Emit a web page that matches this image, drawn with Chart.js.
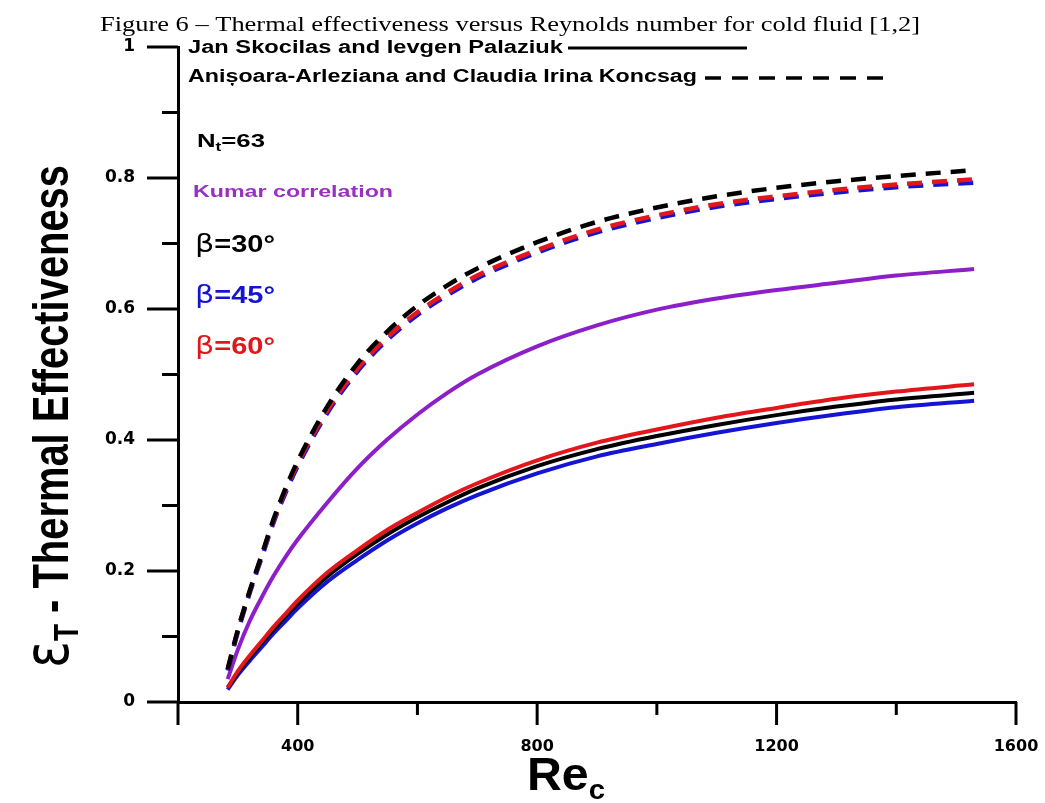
<!DOCTYPE html>
<html>
<head>
<meta charset="utf-8">
<script src="https://cdn.jsdelivr.net/npm/chart.js@4.4.1/dist/chart.umd.min.js"></script>
<style>
  html, body { margin: 0; padding: 0; background: #fff; }
  #wrap { width: 1045px; height: 803px; }
</style>
</head>
<body>
<div id="wrap"><canvas id="chart" width="1045" height="803"></canvas></div>
<script>
// Re_c values shared by every curve
const reC = [283, 300, 320, 340, 360, 380, 400, 450, 500, 550, 600, 650, 700, 800, 900, 1000, 1100, 1200, 1300, 1400, 1530];

// Jan Skocilas and Ievgen Palaziuk (solid)
const janBeta30 = [0.022, 0.045, 0.068, 0.09, 0.111, 0.131, 0.15, 0.192, 0.226, 0.256, 0.282, 0.305, 0.326, 0.36, 0.386, 0.406, 0.423, 0.438, 0.451, 0.462, 0.472];
const janBeta45 = [0.019, 0.041, 0.063, 0.084, 0.105, 0.124, 0.143, 0.184, 0.217, 0.247, 0.273, 0.296, 0.316, 0.349, 0.375, 0.394, 0.411, 0.426, 0.439, 0.45, 0.46];
const janBeta60 = [0.022, 0.047, 0.071, 0.093, 0.115, 0.135, 0.155, 0.198, 0.232, 0.263, 0.289, 0.313, 0.334, 0.369, 0.396, 0.416, 0.434, 0.449, 0.463, 0.474, 0.485];

// Kumar correlation
const kumar = [0.035, 0.08, 0.124, 0.16, 0.193, 0.222, 0.248, 0.305, 0.357, 0.401, 0.439, 0.472, 0.5, 0.543, 0.575, 0.599, 0.616, 0.629, 0.64, 0.651, 0.661];

// Anisoara-Arleziana and Claudia Irina Koncsag (dashed)
const konBeta30 = [0.05, 0.11, 0.17, 0.225, 0.28, 0.327, 0.368, 0.452, 0.517, 0.566, 0.605, 0.636, 0.662, 0.702, 0.733, 0.755, 0.772, 0.785, 0.795, 0.803, 0.812];
const konBeta45 = [0.048, 0.107, 0.167, 0.221, 0.275, 0.32, 0.36, 0.442, 0.505, 0.553, 0.591, 0.621, 0.647, 0.686, 0.717, 0.739, 0.756, 0.768, 0.778, 0.786, 0.793];
const konBeta60 = [0.05, 0.11, 0.17, 0.224, 0.278, 0.324, 0.364, 0.446, 0.509, 0.557, 0.595, 0.625, 0.651, 0.69, 0.721, 0.743, 0.76, 0.772, 0.782, 0.79, 0.798];

const xTickLabels = ['400', '800', '1200', '1600'];
const yTickLabels = ['0', '0.2', '0.4', '0.6', '0.8', '1'];

const BLACK = '#000000', BLUE = '#1414d2', RED = '#e3161b', PURPLE = '#8c1fc8';

function pts(ys) { return ys.map((y, i) => ({x: reC[i], y: y})); }

function curve(label, ys, color, dashed, order) {
  return {
    label: label, data: pts(ys), borderColor: color, backgroundColor: color,
    borderWidth: dashed ? 4.5 : 4, borderDash: dashed ? [15, 10] : [],
    pointRadius: 0, fill: false, cubicInterpolationMode: 'monotone', order: order
  };
}

// draws a row of text pieces, squeezed/stretched to a target width
function drawPieces(ctx, pieces, x, y, targetW, opts) {
  opts = opts || {};
  let w = 0;
  pieces.forEach(p => { ctx.font = p.font; p.w = ctx.measureText(p.t).width; w += p.w; });
  const sx = targetW ? targetW / w : 1;
  ctx.save();
  ctx.translate(x, y);
  if (opts.rotate) ctx.rotate(opts.rotate);
  ctx.scale(sx, opts.sy || 1);
  ctx.textBaseline = 'alphabetic';
  ctx.textAlign = 'left';
  let cx = 0;
  pieces.forEach(p => {
    ctx.font = p.font;
    ctx.fillStyle = p.color || BLACK;
    ctx.fillText(p.t, cx, p.dy || 0);
    cx += p.w;
  });
  ctx.restore();
}

const SANS = '"Liberation Sans", Arial, sans-serif';

const decor = {
  id: 'decor',
  afterDraw(chart) {
    const ctx = chart.ctx;
    const xs = chart.scales.x, ys = chart.scales.y;
    const a = chart.chartArea;

    // tick marks, outside the axes
    ctx.save();
    ctx.strokeStyle = BLACK;
    ctx.lineWidth = 3;
    xs.ticks.forEach(t => {
      const px = xs.getPixelForValue(t.value);
      const major = xTickLabels.includes(String(t.value)) || t.value === 200;
      ctx.beginPath();
      ctx.moveTo(px, a.bottom);
      ctx.lineTo(px, a.bottom + (major ? 23 : 13));
      ctx.stroke();
    });
    ys.ticks.forEach(t => {
      const py = ys.getPixelForValue(t.value);
      const major = yTickLabels.includes(String(+t.value.toFixed(1)));
      ctx.beginPath();
      ctx.moveTo(a.left, py);
      ctx.lineTo(a.left - (major ? 31 : 16), py);
      ctx.stroke();
    });
    ctx.restore();

    // title
    drawPieces(ctx, [{t: 'Figure 6 \u2013 Thermal effectiveness versus Reynolds number for cold fluid [1,2]',
      font: '21px "Liberation Serif", "Times New Roman", serif'}], 100, 31, 820);

    // legend
    drawPieces(ctx, [{t: 'Jan Skocilas and Ievgen Palaziuk', font: 'bold 18px ' + SANS}], 188, 53, 375);
    drawPieces(ctx, [{t: 'Ani\u0219oara-Arleziana and Claudia Irina Koncsag', font: 'bold 18px ' + SANS}], 188, 82, 509);
    ctx.save();
    ctx.strokeStyle = BLACK;
    ctx.lineWidth = 3;
    ctx.beginPath(); ctx.moveTo(568, 48); ctx.lineTo(747, 48); ctx.stroke();
    ctx.setLineDash([16, 11]);
    ctx.lineWidth = 3.5;
    ctx.beginPath(); ctx.moveTo(705, 78); ctx.lineTo(890, 78); ctx.stroke();
    ctx.restore();

    // annotations
    drawPieces(ctx, [
      {t: 'N', font: 'bold 18px ' + SANS},
      {t: 't', font: 'bold 12px ' + SANS, dy: 4},
      {t: '=63', font: 'bold 18px ' + SANS}], 197, 147, 68);
    drawPieces(ctx, [{t: 'Kumar correlation', font: 'bold 17px ' + SANS, color: '#9a2fc4'}], 193, 197, 200);
    [['30', BLACK, 252], ['45', BLUE, 303], ['60', RED, 354]].forEach(b => {
      drawPieces(ctx, [
        {t: '\u03b2', font: '24px "DejaVu Sans", sans-serif', color: b[1]},
        {t: '=' + b[0] + '\u00b0', font: 'bold 23px ' + SANS, color: b[1]}], 195, b[2], 80);
    });

    // axis titles
    drawPieces(ctx, [
      {t: '\u03b5', font: '50px "DejaVu Sans", sans-serif'},
      {t: 'T', font: 'bold 28px ' + SANS, dy: 8},
      {t: ' - Thermal Effectiveness', font: 'bold 40px ' + SANS}],
      68, 668, 503, {rotate: -Math.PI / 2, sy: 1.25});
    drawPieces(ctx, [
      {t: 'Re', font: 'bold 46px ' + SANS},
      {t: 'c', font: 'bold 28px ' + SANS, dy: 9}], 527, 790, 78);
  }
};

new Chart(document.getElementById('chart'), {
  type: 'line',
  data: {
    datasets: [
      curve('Koncsag \u03b2=30\u00b0', konBeta30, BLACK, true, 1),
      curve('Koncsag \u03b2=60\u00b0', konBeta60, RED, true, 2),
      curve('Koncsag \u03b2=45\u00b0', konBeta45, BLUE, true, 3),
      curve('Kumar correlation', kumar, PURPLE, false, 4),
      curve('Skocilas \u03b2=60\u00b0', janBeta60, RED, false, 5),
      curve('Skocilas \u03b2=30\u00b0', janBeta30, BLACK, false, 6),
      curve('Skocilas \u03b2=45\u00b0', janBeta45, BLUE, false, 7)
    ]
  },
  options: {
    responsive: false,
    animation: false,
    layout: { padding: { left: 0, right: 29, top: 47, bottom: 0 } },
    plugins: { legend: { display: false }, title: { display: false }, tooltip: { enabled: false } },
    scales: {
      x: {
        type: 'linear', min: 200, max: 1600,
        afterFit(scale) { scale.height = 101; scale.paddingLeft = 0; scale.paddingRight = 0; },
        grid: { display: false, drawTicks: false },
        border: { display: true, color: BLACK, width: 3 },
        ticks: {
          stepSize: 200, padding: 35, color: BLACK, maxRotation: 0, autoSkip: false,
          font: { family: '"DejaVu Sans"', size: 16, weight: 'bold' },
          callback: v => xTickLabels.includes(String(v)) ? String(v) : ''
        }
      },
      y: {
        min: 0, max: 1,
        afterFit(scale) { scale.width = 178; scale.paddingTop = 0; scale.paddingBottom = 0; },
        grid: { display: false, drawTicks: false },
        border: { display: true, color: BLACK, width: 3 },
        ticks: {
          stepSize: 0.1, padding: 43, color: BLACK, autoSkip: false,
          font: { family: '"DejaVu Sans"', size: 17, weight: 'bold' },
          callback: v => {
            const s = String(+v.toFixed(1));
            return yTickLabels.includes(s) ? s : '';
          }
        }
      }
    }
  },
  plugins: [decor]
});
</script>
</body>
</html>
